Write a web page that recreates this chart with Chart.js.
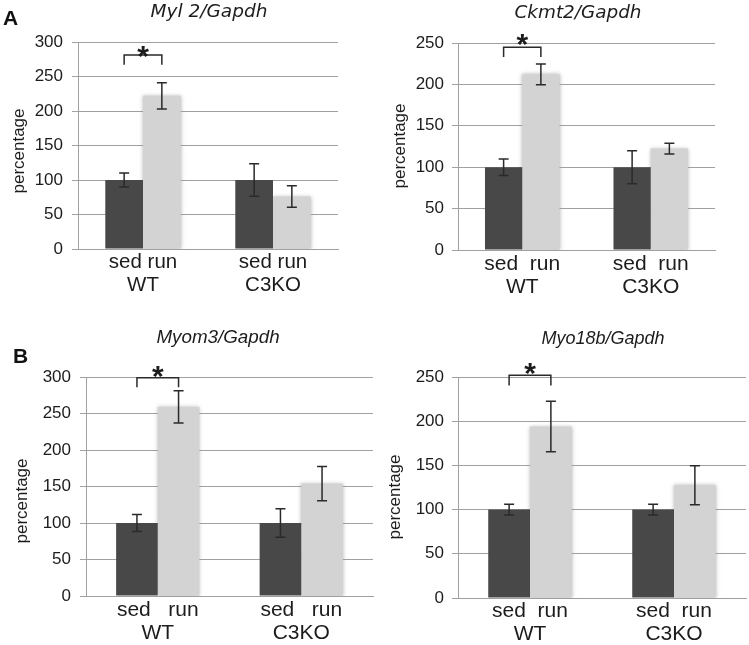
<!DOCTYPE html>
<html>
<head>
<meta charset="utf-8">
<script src="https://cdn.jsdelivr.net/npm/chart.js@4.4.1/dist/chart.umd.min.js"></script>
<style>
  body { margin: 0; background: #fff; }
  #wrap { position: relative; width: 749px; height: 645px; }
  canvas { position: absolute; }
  .tag { position: absolute; font: bold 21px "Liberation Sans", Arial, sans-serif; line-height: 21px; color: #111; }
</style>
</head>
<body>
<div id="wrap">
  <canvas id="cMyl2" width="375" height="310" style="left:0;top:0"></canvas>
  <canvas id="cCkmt2" width="374" height="310" style="left:375px;top:0"></canvas>
  <canvas id="cMyom3" width="375" height="325" style="left:0;top:320px"></canvas>
  <canvas id="cMyo18b" width="374" height="325" style="left:375px;top:320px"></canvas>
  <div class="tag" style="left:3px;top:7px">A</div>
  <div class="tag" style="left:13px;top:345px">B</div>
</div>
<script>
// categories
const genotypes = ['WT', 'C3KO'];
const conditions = ['sed', 'run'];

// Myl 2/Gapdh
const myl2Sed = [100, 100];
const myl2SedErr = [10, 23.5];
const myl2Run = [222, 76];
const myl2RunErr = [19, 15.5];
const myl2Sig = [281, 267, 290]; // bracket top, leg end, star

// Ckmt2/Gapdh
const ckmt2Sed = [100, 100];
const ckmt2SedErr = [10, 20];
const ckmt2Run = [212, 122.5];
const ckmt2RunErr = [12.5, 6.5];
const ckmt2Sig = [245, 233, 257];

// Myom3/Gapdh
const myom3Sed = [100, 100];
const myom3SedErr = [11.5, 19.5];
const myom3Run = [259, 154];
const myom3RunErr = [22, 23.5];
const myom3Sig = [299, 286, 311];

// Myo18b/Gapdh
const myo18bSed = [100, 100];
const myo18bSedErr = [6, 6];
const myo18bRun = [194, 127.5];
const myo18bRunErr = [28.5, 22];
const myo18bSig = [252, 240.5, 262];

const ink = '#1c1c1c';
const gridGray = '#a0a0a0';

const extras = {
  id: 'extras',
  beforeDatasetDraw(chart, args) {
    if (args.index === 1) {
      const c = chart.ctx;
      c.save();
      c.shadowColor = 'rgba(150,150,150,0.7)';
      c.shadowBlur = 4;
    }
  },
  afterDatasetDraw(chart, args) {
    if (args.index === 1) chart.ctx.restore();
  },
  afterDatasetsDraw(chart, args, o) {
    const ctx = chart.ctx, y = chart.scales.y;
    ctx.save();
    ctx.strokeStyle = '#2a2a2a';
    ctx.lineWidth = 1.5;
    // error bars
    chart.data.datasets.forEach((ds, i) => {
      chart.getDatasetMeta(i).data.forEach((bar, j) => {
        const v = ds.data[j], e = ds.err[j];
        const t = y.getPixelForValue(v + e), b = y.getPixelForValue(v - e);
        ctx.beginPath();
        ctx.moveTo(bar.x, t); ctx.lineTo(bar.x, b);
        ctx.moveTo(bar.x - 5, t); ctx.lineTo(bar.x + 5, t);
        ctx.moveTo(bar.x - 5, b); ctx.lineTo(bar.x + 5, b);
        ctx.stroke();
      });
    });
    // significance bracket
    const x0 = chart.getDatasetMeta(0).data[0].x;
    const x1 = chart.getDatasetMeta(1).data[0].x;
    const top = y.getPixelForValue(o.sig[0]);
    const leg = y.getPixelForValue(o.sig[1]);
    ctx.beginPath();
    ctx.moveTo(x0, leg); ctx.lineTo(x0, top); ctx.lineTo(x1, top); ctx.lineTo(x1, leg);
    ctx.stroke();
    const s = 30;
    ctx.fillStyle = ink;
    ctx.font = 'bold ' + s + 'px "Liberation Sans"';
    ctx.textAlign = 'center';
    ctx.textBaseline = 'alphabetic';
    ctx.fillText('*', (x0 + x1) / 2, y.getPixelForValue(o.sig[2]) + 0.555 * s);
    ctx.restore();
  },
  afterDraw(chart, args, o) {
    const ctx = chart.ctx;
    ctx.save();
    ctx.fillStyle = ink;
    ctx.font = o.titleFont;
    ctx.textAlign = 'center';
    ctx.textBaseline = 'alphabetic';
    ctx.fillText(o.title, o.titleX, o.titleY);
    ctx.translate(o.yTitleX, o.yTitleY);
    ctx.rotate(-Math.PI / 2);
    ctx.font = o.yTitleFont;
    ctx.textBaseline = 'middle';
    ctx.fillText('percentage', 0, 0);
    ctx.restore();
  }
};

function makeChart(id, p) {
  return new Chart(document.getElementById(id), {
    type: 'bar',
    data: {
      labels: genotypes.map(g => [conditions.join(p.gap), g]),
      datasets: [
        { label: 'sed', data: p.sed, err: p.sedErr, backgroundColor: '#484848',
          barPercentage: 1, categoryPercentage: 0.58 },
        { label: 'run', data: p.run, err: p.runErr, backgroundColor: '#d3d3d3',
          barPercentage: 1, categoryPercentage: 0.58 }
      ]
    },
    options: {
      responsive: false,
      animation: false,
      layout: { padding: { top: p.box.top, right: p.box.right, left: 0, bottom: 0 } },
      plugins: {
        legend: { display: false },
        tooltip: { enabled: false },
        extras: {
          sig: p.sig, title: p.title, titleFont: p.titleFont, titleX: p.titleX, titleY: p.titleY,
          yTitleFont: p.yTitleFont, yTitleX: p.yTitleX, yTitleY: p.yTitleY
        }
      },
      scales: {
        x: {
          grid: { display: false, drawTicks: false },
          border: { display: true, color: gridGray },
          ticks: { color: ink, padding: p.xPad, maxRotation: 0, autoSkip: false,
                   font: { family: 'Liberation Sans', size: p.xSize, lineHeight: 1.1 } },
          afterFit: s => { s.height = p.box.xH; }
        },
        y: {
          min: 0, max: p.max,
          ticks: { stepSize: 50, color: ink, padding: p.yPad,
                   font: { family: 'Liberation Sans', size: 17 } },
          grid: { color: gridGray, tickLength: 6 },
          border: { color: gridGray },
          afterFit: s => { s.width = p.box.yW; }
        }
      }
    },
    plugins: [extras]
  });
}

makeChart('cMyl2', {
  sed: myl2Sed, sedErr: myl2SedErr, run: myl2Run, runErr: myl2RunErr, sig: myl2Sig,
  title: 'Myl 2/Gapdh', titleFont: 'italic 18.5px "DejaVu Sans"', titleX: 209, titleY: 17,
  yTitleFont: '17px "Liberation Sans"', yTitleX: 19, yTitleY: 151,
  max: 300, gap: ' ', xSize: 20.5, xPad: 2.5, yPad: 9,
  box: { top: 42, right: 37, yW: 78, xH: 61 }
});

makeChart('cCkmt2', {
  sed: ckmt2Sed, sedErr: ckmt2SedErr, run: ckmt2Run, runErr: ckmt2RunErr, sig: ckmt2Sig,
  title: 'Ckmt2/Gapdh', titleFont: 'italic 18.4px "DejaVu Sans"', titleX: 203, titleY: 18,
  yTitleFont: '17px "Liberation Sans"', yTitleX: 25, yTitleY: 146,
  max: 250, gap: '  ', xSize: 21, xPad: 3, yPad: 8,
  box: { top: 43, right: 34, yW: 83, xH: 60 }
});

makeChart('cMyom3', {
  sed: myom3Sed, sedErr: myom3SedErr, run: myom3Run, runErr: myom3RunErr, sig: myom3Sig,
  title: 'Myom3/Gapdh', titleFont: 'italic 18.8px "Liberation Sans"', titleX: 218, titleY: 23,
  yTitleFont: '17px "Liberation Sans"', yTitleX: 22, yTitleY: 181,
  max: 300, gap: '   ', xSize: 21, xPad: 3, yPad: 9,
  box: { top: 57, right: 2, yW: 86, xH: 49 }
});

makeChart('cMyo18b', {
  sed: myo18bSed, sedErr: myo18bSedErr, run: myo18bRun, runErr: myo18bRunErr, sig: myo18bSig,
  title: 'Myo18b/Gapdh', titleFont: 'italic 18px "Liberation Sans"', titleX: 228, titleY: 23.5,
  yTitleFont: '17px "Liberation Sans"', yTitleX: 20, yTitleY: 177,
  max: 250, gap: '  ', xSize: 21, xPad: 2, yPad: 8,
  box: { top: 57, right: 3, yW: 83, xH: 47 }
});
</script>
</body>
</html>
